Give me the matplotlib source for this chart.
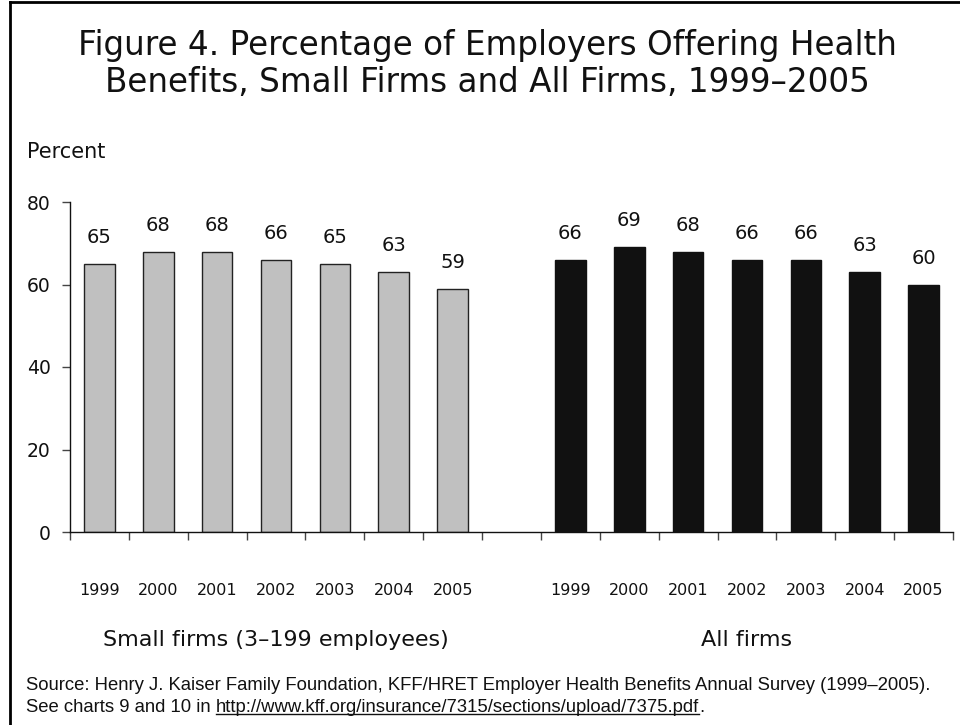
import numpy as np
import matplotlib
matplotlib.use("Agg")
import matplotlib.pyplot as plt
from matplotlib.lines import Line2D

years = ["1999", "2000", "2001", "2002", "2003", "2004", "2005"]
small_firms = [65, 68, 68, 66, 65, 63, 59]
all_firms = [66, 69, 68, 66, 66, 63, 60]
groups = ["Small firms (3\u2013199 employees)", "All firms"]
yticks = [0, 20, 40, 60, 80]

plt.rcParams['font.family'] = ['DejaVu Sans']

fig = plt.figure(figsize=(9.6, 7.25), dpi=100)
ax = fig.add_axes([70 / 960, 1 - 532 / 725, 883 / 960, 330 / 725])

n = len(years)
x_small = np.arange(n)
x_all = np.arange(n) + n + 1
bw = 0.52

ax.bar(x_small, small_firms, width=bw, color="#c0c0c0", edgecolor="#222222", linewidth=1.0)
ax.bar(x_all, all_firms, width=bw, color="#111111", edgecolor="#111111", linewidth=1.0)

for xs, vals in [(x_small, small_firms), (x_all, all_firms)]:
    for xi, v in zip(xs, vals):
        ax.annotate(str(v), (xi, v), xytext=(0, 19), textcoords="offset points",
                    ha="center", va="center", fontsize=14, color="#111111")

ax.set_xlim(-0.5, 2 * n + 0.5)
ax.set_ylim(0, 80)
ax.set_yticks(yticks)
ax.set_yticklabels([str(t) for t in yticks], fontsize=13.5, color="#111111")
ax.set_xticks(np.arange(-0.5, 2 * n + 1, 1.0))
ax.set_xticklabels([])
ax.tick_params(axis="both", direction="out", length=6, width=1, color="#444444")
ax.tick_params(axis="y", pad=8)

for s in ["top", "right"]:
    ax.spines[s].set_visible(False)
for s in ["left", "bottom"]:
    ax.spines[s].set_color("#111111")
    ax.spines[s].set_linewidth(1.0)

# year labels under bars
for xs in [x_small, x_all]:
    for xi, yr in zip(xs, years):
        ax.annotate(yr, (xi, 0), xytext=(0, -42), textcoords="offset points",
                    ha="center", va="center", fontsize=11.5, color="#111111")

# group labels
ax.annotate(groups[0], (x_small.mean(), 0), xytext=(0, -78), textcoords="offset points",
            ha="center", va="center", fontsize=16, color="#111111")
ax.annotate(groups[1], (x_all.mean(), 0), xytext=(0, -78), textcoords="offset points",
            ha="center", va="center", fontsize=16, color="#111111")

fig.text(487 / 960, 1 - 64 / 725,
         "Figure 4. Percentage of Employers Offering Health\nBenefits, Small Firms and All Firms, 1999\u20132005",
         ha="center", va="center", fontsize=23.5, color="#111111", linespacing=1.12)
fig.text(27 / 960, 1 - 152 / 725, "Percent", ha="left", va="center", fontsize=15, color="#111111")

src_font = ['Liberation Sans', 'DejaVu Sans']
src_size = 13.3
fig.text(26 / 960, 1 - 686 / 725,
         "Source: Henry J. Kaiser Family Foundation, KFF/HRET Employer Health Benefits Annual Survey (1999\u20132005).",
         ha="left", va="center", fontsize=src_size, family=src_font, color="#111111")
t1 = fig.text(26 / 960, 1 - 707 / 725, "See charts 9 and 10 in ",
              ha="left", va="center", fontsize=src_size, family=src_font, color="#111111")
fig.canvas.draw()
r = fig.canvas.get_renderer()
bb = t1.get_window_extent(r)
url = "http://www.kff.org/insurance/7315/sections/upload/7375.pdf"
t2 = fig.text(bb.x1 / 960, 1 - 707 / 725, url, ha="left", va="center", fontsize=src_size,
              family=src_font, color="#111111")
bb2 = t2.get_window_extent(r)
fig.text(bb2.x1 / 960, 1 - 707 / 725, ".", ha="left", va="center", fontsize=src_size,
         family=src_font, color="#111111")
uy = (bb2.y0 + 2) / 725
fig.add_artist(Line2D([bb2.x0 / 960, bb2.x1 / 960], [uy, uy], color="#111111", linewidth=1.0))

# frame lines (left and top)
fig.add_artist(Line2D([10 / 960, 10 / 960], [0, 1 - 2 / 725], color="black", linewidth=2))
fig.add_artist(Line2D([10 / 960, 1], [1 - 2 / 725, 1 - 2 / 725], color="black", linewidth=2))

fig.savefig("out.png", dpi=100)
